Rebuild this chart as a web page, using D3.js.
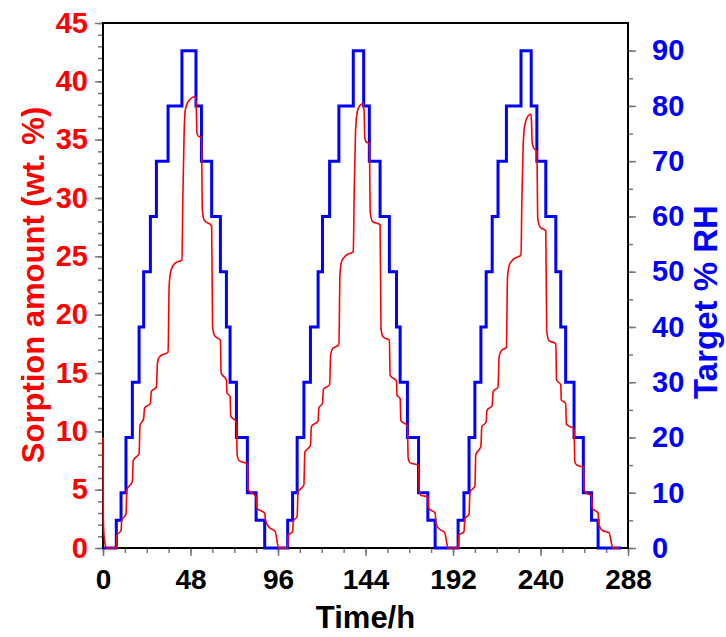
<!DOCTYPE html>
<html>
<head>
<meta charset="utf-8">
<title>Sorption cycles</title>
<script src="https://d3js.org/d3.v7.min.js"></script>
<style>
body{margin:0;background:#fff;}
svg text{font-family:Arial,"Liberation Sans",sans-serif;font-weight:bold;}
</style>
</head>
<body>
<script>
// target RH levels of one cycle (step after each time)
var rhLevels = [0,5,10,20,30,40,50,60,70,80,90,80,70,60,50,40,30,20,10,5,0];
var rhTimes1 = [0,7.3,9.9,12.6,16.1,19.8,22.3,26.0,29.3,35.7,43.3,51.0,54.0,59.6,64.4,67.7,69.7,73.2,79.2,84.0,88.7];
var rhTimes2 = [88.7,101.3,104.0,106.5,110.2,113.8,118.0,120.4,124.3,129.4,137.3,143.0,146.1,152.0,157.1,161.0,163.0,167.0,173.1,178.2,182.2];
var rhTimes3 = [182.2,194.8,198.0,200.8,204.0,207.3,210.2,213.5,216.7,221.3,229.3,234.9,238.0,242.9,248.4,251.1,253.8,258.4,263.5,268.0,271.6];
var rhEnd = 284.2;

// sorption amount, [time h, wt. %]
var sorp1 = [[0,9.5],[0.2,2.4],[0.6,1.0],[1.2,0.3],[2.0,0],[7.3,0],
  [7.6,1.1],[9.9,1.5],[10.3,2.4],[12.6,2.9],[13.1,5.0],[16.1,5.7],
  [16.6,7.5],[19.8,8.1],[20.3,10.5],[22.3,11.1],[22.8,12.0],[26.0,12.4],
  [26.5,13.4],[29.3,13.8],[29.9,15.9],[31.0,16.4],[35.7,16.8],
  [36.3,22.5],[37.3,23.8],[39.5,24.4],[43.3,24.7],
  [43.8,30.0],[44.5,35.5],[45.1,37.5],[46.9,38.3],[50.7,38.7],[51.2,37.5],[51.5,35.6],[52.3,35.3],[54.0,35.2],
  [54.5,29.0],[55.5,28.1],[59.6,27.6],[60.1,19.0],[61.2,18.2],[64.4,17.8],
  [64.8,15.0],[67.7,14.4],[68.0,13.3],[69.7,13.0],[70.1,11.3],[73.2,10.8],
  [73.6,8.0],[74.6,7.5],[79.2,7.2],[79.6,5.0],[84.0,4.4],[84.4,3.4],[88.7,3.0],
  [89.1,2.4],[91.0,1.8],[94.5,1.4],[95.5,0.6],[96.2,0]];
var sorp2 = [[101.3,0],[101.6,1.1],[104.0,1.4],[104.4,2.3],[106.5,2.7],
  [107.0,4.8],[110.2,5.4],[110.7,8.2],[113.8,8.8],[114.3,10.4],[118.0,10.9],
  [118.4,12.0],[120.4,12.4],[120.9,13.6],[124.3,14.0],[124.9,16.6],[126.0,17.1],[129.4,17.4],
  [130.0,23.5],[131.0,24.6],[133.5,25.1],[137.3,25.4],
  [137.8,30.5],[138.5,35.5],[139.3,37.2],[140.8,37.9],[142.8,38.1],[143.3,37.2],[143.6,35.2],[144.4,34.8],[146.1,34.7],
  [146.6,28.8],[147.8,28.0],[152.0,27.7],[152.5,18.8],[153.6,18.1],[157.1,17.8],
  [157.5,14.8],[161.0,14.3],[161.3,13.1],[163.0,12.8],[163.4,10.9],[167.0,10.5],
  [167.4,7.7],[168.5,7.3],[173.1,7.1],[173.5,4.9],[174.5,4.5],[178.2,4.4],
  [178.6,3.4],[182.2,3.0],[182.6,2.2],[184.0,1.7],[187.5,1.3],[188.5,0.5],[189.2,0]];
var sorp3 = [[194.8,0],[195.2,1.1],[198.0,1.4],[198.5,2.5],[200.8,2.9],
  [201.3,4.8],[204.0,5.3],[204.5,8.0],[207.3,8.7],[207.8,10.4],[210.2,10.8],
  [210.6,11.8],[213.5,12.2],[214.0,13.4],[216.7,13.8],[217.3,16.4],[218.5,16.9],[221.3,17.2],
  [221.9,23.2],[223.0,24.3],[225.5,24.8],[229.3,25.1],
  [229.8,30.0],[230.5,34.5],[231.3,36.2],[233.0,37.0],[234.7,37.2],[235.1,36.4],[235.4,34.8],[236.2,34.3],[238.0,34.0],
  [238.5,28.2],[239.8,27.5],[242.9,27.2],[243.4,18.6],[244.6,17.8],[248.4,17.5],
  [248.8,14.4],[251.1,14.0],[251.4,12.7],[253.8,12.4],[254.2,10.6],[258.4,10.2],
  [258.8,7.4],[260.0,7.1],[263.5,6.9],[263.9,5.0],[265.0,4.7],[268.0,4.5],
  [268.4,3.4],[271.6,3.0],[272.0,2.0],[274.0,1.5],[277.7,1.3],[278.8,0.5],[279.6,0],[283.0,0]];

var xTicks = [0,48,96,144,192,240,288];
var leftTicks = [0,5,10,15,20,25,30,35,40,45];
var rightTicks = [0,10,20,30,40,50,60,70,80,90];

var W = 726, H = 637;
var margin = {top: 23, right: 98, bottom: 89, left: 103};

var svg = d3.select("body").append("svg")
    .attr("width", W)
    .attr("height", H);

var x = d3.scaleLinear().domain([0, 288]).range([margin.left, W - margin.right]);
var yL = d3.scaleLinear().domain([0, 45]).range([H - margin.bottom, margin.top]);
var yR = d3.scaleLinear().domain([0, 95]).range([H - margin.bottom, margin.top]);

var tickColor = "#777";

function styleAxis(g) {
  g.select(".domain").remove();
  g.selectAll(".tick line").attr("stroke", tickColor).attr("stroke-width", 1.5);
}

// minor ticks
svg.append("g")
    .attr("transform", "translate(0," + (H - margin.bottom) + ")")
    .call(d3.axisBottom(x).tickValues(d3.range(0, 289, 12)).tickSize(5).tickFormat(""))
    .call(styleAxis);
svg.append("g")
    .attr("transform", "translate(" + margin.left + ",0)")
    .call(d3.axisLeft(yL).tickValues(d3.range(0, 46, 1)).tickSize(5).tickFormat(""))
    .call(styleAxis);
svg.append("g")
    .attr("transform", "translate(" + (W - margin.right) + ",0)")
    .call(d3.axisRight(yR).tickValues(d3.range(0, 95, 5)).tickSize(5).tickFormat(""))
    .call(styleAxis);

// major ticks + labels
var gx = svg.append("g")
    .attr("transform", "translate(0," + (H - margin.bottom) + ")")
    .call(d3.axisBottom(x).tickValues(xTicks).tickSize(8).tickPadding(13).tickFormat(d3.format("d")))
    .call(styleAxis);
gx.selectAll("text").attr("fill", "#000").style("font-size", "28px");

var gl = svg.append("g")
    .attr("transform", "translate(" + margin.left + ",0)")
    .call(d3.axisLeft(yL).tickValues(leftTicks).tickSize(8).tickPadding(7).tickFormat(d3.format("d")))
    .call(styleAxis);
gl.selectAll("text").attr("fill", "#ff0000").style("font-size", "29px");

var gr = svg.append("g")
    .attr("transform", "translate(" + (W - margin.right) + ",0)")
    .call(d3.axisRight(yR).tickValues(rightTicks).tickSize(8).tickPadding(16).tickFormat(d3.format("d")))
    .call(styleAxis);
gr.selectAll("text").attr("fill", "#0000ff").style("font-size", "29px");

// frame
svg.append("rect")
    .attr("x", margin.left)
    .attr("y", margin.top)
    .attr("width", W - margin.left - margin.right)
    .attr("height", H - margin.top - margin.bottom)
    .attr("fill", "none")
    .attr("stroke", "#000")
    .attr("stroke-width", 2);

// RH step line
var rhPoints = [];
[rhTimes1, rhTimes2, rhTimes3].forEach(function(ts, c) {
  ts.forEach(function(t, i) {
    if (c > 0 && i === 0) return;
    rhPoints.push([t, rhLevels[i]]);
  });
});
rhPoints.push([rhEnd, 0]);

var rhLine = d3.line()
    .x(function(d) { return x(d[0]); })
    .y(function(d) { return yR(d[1]); })
    .curve(d3.curveStepAfter);

svg.append("path")
    .datum(rhPoints)
    .attr("fill", "none")
    .attr("stroke", "#0000ff")
    .attr("stroke-width", 3)
    .attr("d", rhLine);

// sorption curve
var sorp = sorp1.concat(sorp2, sorp3);
var sorpLine = d3.line()
    .x(function(d) { return x(d[0]); })
    .y(function(d) { return yL(d[1]); })
    .curve(d3.curveMonotoneX);

svg.append("path")
    .datum(sorp)
    .attr("fill", "none")
    .attr("stroke", "#ff0000")
    .attr("stroke-width", 1.6)
    .attr("d", sorpLine);

// axis titles
svg.append("text")
    .attr("transform", "translate(33,285) rotate(-90)")
    .attr("text-anchor", "middle")
    .attr("dy", "0.35em")
    .attr("fill", "#ff0000")
    .style("font-size", "31px")
    .text("Sorption amount (wt. %)");

svg.append("text")
    .attr("transform", "translate(705,302) rotate(-90)")
    .attr("text-anchor", "middle")
    .attr("dy", "0.35em")
    .attr("fill", "#0000ff")
    .style("font-size", "33px")
    .text("Target % RH");

svg.append("text")
    .attr("x", (margin.left + W - margin.right) / 2)
    .attr("y", 628)
    .attr("text-anchor", "middle")
    .attr("fill", "#000")
    .style("font-size", "31px")
    .text("Time/h");
</script>
</body>
</html>
